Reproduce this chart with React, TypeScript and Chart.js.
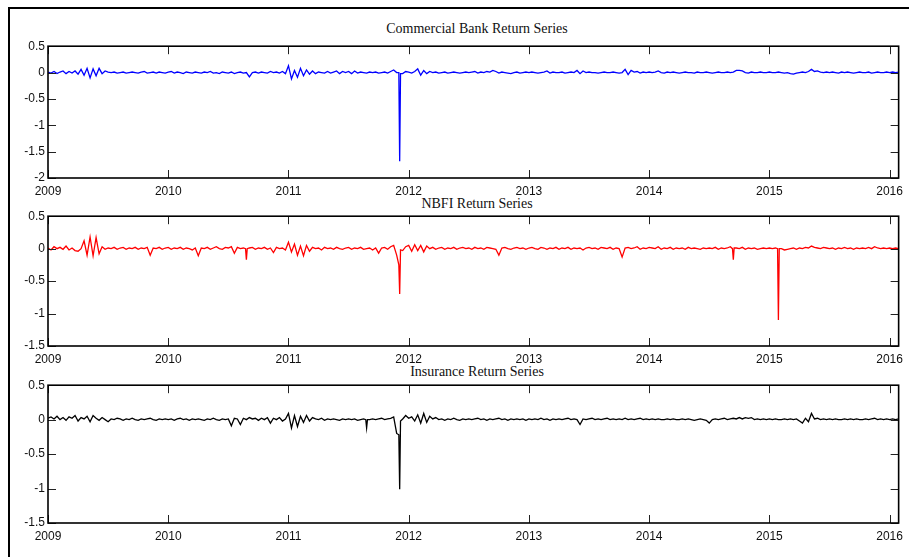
import React, { useEffect, useRef } from "react";
import { Chart, registerables } from "chart.js";

Chart.register(...registerables);

// ---- data (returns; one sample every 1/40 year from 2009.0) ----
const START_YEAR = 2009;
const STEP_YEARS = 1 / 40;
const X_MIN = 2009;
const X_MAX = 2016.075;
const X_TICKS = [2009, 2010, 2011, 2012, 2013, 2014, 2015, 2016];
const Y_TICKS_BANK = [0.5, 0, -0.5, -1, -1.5, -2];
const Y_TICKS_OTHER = [0.5, 0, -0.5, -1, -1.5];
const TITLES = ["Commercial Bank Return Series", "NBFI Return Series", "Insurance Return Series"];

const bankReturns = [
  0.01, -0.01, 0.02, -0.02, 0.01, 0.03, -0.02, 0.02, -0.01, 0.03,
  -0.03, 0.06, -0.05, 0.08, -0.1, 0.07, -0.06, 0.08, -0.02, 0.03,
  0.01, 0.0, 0.01, -0.01, 0.0, 0.01, -0.01, 0.0, 0.01, 0.0,
  -0.01, 0.01, 0.02, -0.01, 0.0, 0.01, -0.01, 0.01, 0.0, -0.01,
  0.01, 0.02, -0.01, 0.01, 0.0, -0.02, 0.01, 0.0, -0.01, 0.01,
  0.0, -0.01, 0.01, 0.0, 0.02, -0.01, 0.0, -0.02, 0.01, 0.0,
  -0.01, 0.01, -0.02, 0.0, 0.01, -0.01, 0.0, -0.08, 0.0, 0.01,
  -0.01, 0.01, 0.0, -0.01, 0.02, 0.0, 0.01, -0.01, 0.02, -0.02,
  0.13, -0.12, 0.04, -0.09, 0.08, -0.06, 0.05, -0.03, 0.03, -0.02,
  0.01, 0.0, -0.01, 0.02, -0.01, 0.01, 0.03, -0.02, 0.02, 0.0,
  0.02, -0.02, 0.03, -0.01, 0.01, 0.0, -0.01, 0.01, 0.0, 0.01,
  -0.01, 0.0, 0.01, -0.01, 0.02, 0.05, 0.0, -1.68, -0.02, 0.02,
  0.01, -0.01, 0.02, 0.07, -0.05, 0.04, -0.02, 0.02, 0.0, 0.01,
  -0.01, 0.0, 0.01, -0.01, 0.0, 0.01, 0.0, -0.01, 0.0, 0.01,
  0.0, 0.01, 0.02, -0.01, 0.01, 0.0, 0.02, 0.01, 0.04, 0.02,
  -0.01, 0.01, 0.0, -0.01, -0.02, 0.0, 0.01, -0.01, 0.0, 0.01,
  0.0, 0.01, 0.0, -0.01, 0.0, 0.01, 0.03, -0.01, 0.01, 0.0,
  0.0, 0.01, -0.01, 0.0, 0.01, 0.0, 0.04, -0.02, 0.03, 0.0,
  0.01, 0.0, 0.0, -0.01, 0.0, 0.01, 0.0, 0.0, 0.01, 0.0,
  -0.01, 0.0, 0.06, -0.04, 0.04, 0.01, 0.02, -0.01, 0.01, 0.0,
  0.01, 0.0, 0.01, 0.03, 0.0, -0.01, 0.01, 0.0, 0.01, 0.0,
  -0.01, 0.0, 0.01, 0.0, 0.0, -0.01, 0.01, 0.0, 0.0, 0.01,
  0.0, -0.01, 0.0, 0.01, 0.0, 0.0, 0.01, 0.0, 0.01, 0.04,
  0.04, 0.03, 0.0, -0.01, 0.01, 0.0, 0.0, 0.01, 0.0, 0.0,
  0.01, 0.0, 0.0, 0.01, 0.0, -0.01, 0.0, -0.02, -0.03, -0.01,
  0.0, 0.01, 0.0, 0.02, 0.06, 0.02, 0.03, 0.01, 0.0, 0.01,
  0.0, 0.01, 0.0, -0.01, 0.01, 0.0, 0.01, 0.0, -0.01, 0.0,
  0.01, 0.0, 0.0, 0.01, -0.01, 0.0, 0.01, 0.0, 0.0, 0.01,
  0.0, 0.01, 0.0, 0.01,
];
// extra daily samples right beside the crash day, [year, return]
const bankDetail = [
  [2011.918, 0.0],
  [2011.932, -0.02],
];

const nbfiReturns = [
  0.01, -0.02, 0.03, 0.0, 0.02, -0.01, 0.04, -0.02, 0.01, -0.03,
  -0.04, 0.0, 0.12, -0.1, 0.18, -0.11, 0.17, -0.08, 0.03, -0.01,
  0.01, 0.0, 0.02, -0.01, 0.01, 0.02, -0.01, 0.01, 0.0, 0.02,
  -0.01, 0.01, 0.0, 0.02, -0.1, 0.01, 0.0, 0.02, -0.01, 0.01,
  0.02, -0.01, 0.01, 0.0, 0.02, -0.01, 0.01, 0.0, -0.02, 0.01,
  -0.11, 0.01, 0.0, 0.02, -0.01, 0.01, 0.03, 0.0, -0.01, 0.02,
  0.01, 0.03, -0.07, 0.02, 0.0, 0.01, -0.17, 0.01, 0.02, -0.01,
  0.01, 0.0, 0.02, -0.01, 0.01, -0.06, 0.02, 0.0, 0.01, -0.02,
  0.1, -0.05, 0.07, -0.1, 0.04, -0.11, 0.05, -0.04, 0.02, 0.0,
  0.01, -0.02, 0.02, 0.0, 0.01, -0.01, 0.02, 0.0, -0.01, 0.01,
  0.02, -0.01, 0.01, 0.0, 0.02, -0.01, 0.0, 0.01, -0.02, 0.01,
  -0.07, 0.01, 0.02, -0.01, 0.03, 0.05, -0.1, -0.7, -0.03, 0.03,
  0.05, -0.04, 0.06, -0.03, 0.05, -0.05, 0.04, 0.0, 0.02, -0.01,
  0.01, 0.02, -0.01, 0.01, 0.0, 0.02, -0.01, 0.01, 0.02, 0.0,
  0.01, -0.01, 0.02, 0.0, 0.01, -0.01, 0.02, 0.01, 0.0, -0.01,
  -0.1, 0.01, 0.02, 0.0, -0.01, 0.01, 0.02, 0.0, 0.01, -0.01,
  0.01, 0.02, 0.0, -0.01, 0.02, 0.01, -0.01, 0.01, 0.0, 0.02,
  -0.01, 0.01, 0.0, 0.02, -0.01, 0.01, 0.0, 0.01, -0.02, 0.01,
  0.02, 0.0, 0.01, -0.01, 0.02, 0.01, 0.0, 0.02, -0.01, 0.01,
  0.0, -0.13, 0.01, 0.02, 0.0, 0.01, 0.03, -0.01, 0.01, 0.0,
  0.02, 0.01, 0.0, 0.03, -0.01, 0.01, 0.0, 0.02, -0.01, 0.01,
  0.0, 0.01, -0.01, 0.02, 0.0, 0.01, 0.0, -0.01, 0.01, 0.0,
  0.01, 0.0, 0.02, -0.01, 0.01, 0.0, 0.01, 0.03, -0.17, 0.01,
  0.0, 0.02, -0.01, 0.01, 0.0, 0.01, -0.01, 0.0, 0.01, 0.0,
  0.01, 0.0, 0.01, -1.1, 0.0, -0.02, -0.01, 0.0, 0.01, -0.01,
  0.01, 0.0, 0.02, 0.01, 0.04, 0.02, 0.01, 0.0, 0.02, 0.01,
  0.0, 0.01, -0.01, 0.01, 0.0, 0.02, 0.0, 0.01, -0.01, 0.01,
  0.0, 0.01, 0.0, 0.02, 0.0, 0.03, 0.01, 0.0, 0.01, 0.0,
  0.01, 0.0, 0.01, 0.0,
];
const nbfiDetail = [
  [2011.918, -0.25],
  [2011.932, -0.02],
  [2010.643, 0.0],
  [2010.657, 0.0],
  [2014.693, 0.0],
  [2014.707, 0.01],
  [2015.068, 0.0],
  [2015.082, 0.0],
];

const insuranceReturns = [
  0.02, 0.04, 0.01, 0.05, 0.0, 0.03, -0.01, 0.04, 0.02, 0.06,
  -0.02, 0.03, 0.01, 0.05, -0.03, 0.06, 0.02, -0.01, 0.03, 0.0,
  -0.03, 0.01, 0.0, 0.02, 0.01, -0.01, 0.01, 0.0, 0.02, 0.0,
  -0.01, 0.01, 0.0, 0.01, 0.02, 0.0, -0.01, 0.01, 0.0, 0.01,
  0.0, 0.01, -0.01, 0.01, 0.02, 0.0, 0.01, -0.01, 0.01, 0.0,
  0.01, 0.0, -0.01, 0.01, 0.0, 0.02, 0.0, -0.01, 0.01, 0.0,
  0.01, -0.09, 0.02, 0.01, -0.07, 0.02, 0.0, 0.03, 0.01, 0.02,
  -0.01, 0.02, 0.0, 0.03, -0.05, 0.02, 0.0, 0.03, -0.02, 0.01,
  0.09, -0.12, 0.06, -0.1, 0.05, -0.04, 0.06, -0.02, 0.03, 0.01,
  0.0, 0.02, -0.01, 0.01, 0.0, 0.01, 0.0, -0.01, 0.01, 0.0,
  0.01, 0.0, 0.01, -0.01, 0.0, 0.01, -0.12, 0.0, 0.01, 0.0,
  0.01, 0.02, 0.0, 0.01, 0.02, 0.04, -0.2, -1.01, 0.01, 0.06,
  0.02, 0.04, -0.02, 0.07, -0.05, 0.09, -0.04, 0.05, 0.01, 0.03,
  0.0, 0.01, -0.01, 0.01, 0.0, 0.02, 0.0, -0.01, 0.01, 0.0,
  0.01, 0.0, 0.01, 0.02, 0.0, 0.01, -0.01, 0.01, 0.0, 0.01,
  0.02, 0.0, 0.01, -0.01, 0.01, 0.0, 0.01, 0.0, 0.01, -0.01,
  0.01, 0.0, 0.01, 0.0, 0.02, 0.0, 0.01, -0.01, 0.01, 0.0,
  0.01, 0.0, 0.01, 0.02, 0.0, 0.01, 0.0, -0.07, 0.01, 0.0,
  0.01, 0.02, 0.0, 0.01, 0.0, 0.01, 0.02, 0.0, 0.01, 0.0,
  0.01, 0.0, 0.02, 0.0, 0.01, 0.0, 0.01, 0.02, 0.0, 0.01,
  0.0, 0.01, 0.0, 0.01, 0.0, 0.0, 0.01, 0.0, 0.01, 0.0,
  0.0, 0.01, 0.0, 0.01, 0.0, -0.01, 0.0, 0.01, 0.0, -0.01,
  -0.05, 0.0, 0.01, 0.0, 0.01, 0.02, 0.0, 0.01, 0.02, 0.01,
  0.03, 0.01, 0.03, 0.02, 0.03, 0.0, 0.01, 0.0, 0.01, 0.0,
  0.01, 0.0, 0.01, 0.0, 0.0, 0.01, 0.0, 0.01, 0.0, 0.01,
  -0.02, -0.05, 0.02, -0.03, 0.09, 0.01, 0.02, 0.0, 0.01, 0.0,
  0.01, 0.0, 0.01, 0.0, 0.0, 0.01, 0.0, 0.01, 0.0, 0.01,
  0.0, 0.0, 0.01, 0.0, 0.01, 0.02, 0.0, 0.01, 0.0, 0.01,
  0.0, 0.01, 0.0, 0.01,
];
const insuranceDetail = [
  [2011.918, -0.22],
  [2011.932, -0.02],
  [2011.643, 0.0],
  [2011.657, 0.0],
];

// ---- layout ----
const PAGE_W = 909;
const PAGE_H = 557;
const PLOT_LEFT = 48;
const PLOT_RIGHT = 906;
const CANVAS_LEFT = 10;
const TOP_PAD = 8;
const X_AXIS_H = 24;
const TICK_LEN = 8;

const TICK_FONT = { family: "'Liberation Sans Narrow', 'Liberation Sans', Arial, sans-serif", size: 12 };

const boxPlugin = {
  id: "matlabBox",
  afterDraw(chart: any) {
    const { ctx, chartArea } = chart;
    const { left, right, top, bottom } = chartArea;
    const xs = chart.scales.x;
    const ys = chart.scales.y;
    ctx.save();
    ctx.strokeStyle = "#222";
    ctx.lineWidth = 1;
    ctx.beginPath();
    xs.ticks.forEach((t: any) => {
      const px = Math.round(xs.getPixelForValue(t.value)) + 0.5;
      ctx.moveTo(px, bottom);
      ctx.lineTo(px, bottom - TICK_LEN);
      ctx.moveTo(px, top);
      ctx.lineTo(px, top + TICK_LEN);
    });
    ys.ticks.forEach((t: any) => {
      const py = Math.round(ys.getPixelForValue(t.value)) + 0.5;
      ctx.moveTo(left, py);
      ctx.lineTo(left + TICK_LEN, py);
      ctx.moveTo(right, py);
      ctx.lineTo(right - TICK_LEN, py);
    });
    ctx.stroke();
    ctx.strokeStyle = "#000";
    ctx.lineWidth = 1.6;
    ctx.strokeRect(left, top, right - left, bottom - top);
    ctx.restore();
  },
};

type PanelProps = {
  values: number[];
  detail: number[][];
  color: string;
  yTicks: number[];
  plotTop: number;
  plotBottom: number;
};

function Panel({ values, detail, color, yTicks, plotTop, plotBottom }: PanelProps) {
  const ref = useRef<HTMLCanvasElement | null>(null);
  const width = PAGE_W - CANVAS_LEFT;
  const height = plotBottom - plotTop + TOP_PAD + X_AXIS_H;
  useEffect(() => {
    if (!ref.current) return;
    const yMin = Math.min(...yTicks);
    const yMax = Math.max(...yTicks);
    const points = values
      .map((v, i) => ({ x: START_YEAR + i * STEP_YEARS, y: v }))
      .concat(detail.map(([x, y]) => ({ x, y })))
      .sort((a, b) => a.x - b.x);
    const chart = new Chart(ref.current, {
      type: "line",
      data: {
        datasets: [
          {
            data: points,
            borderColor: color,
            borderWidth: 1.3,
            pointRadius: 0,
            tension: 0,
            fill: false,
          },
        ],
      },
      options: {
        responsive: false,
        maintainAspectRatio: false,
        animation: false,
        events: [],
        layout: { padding: { top: TOP_PAD, right: PAGE_W - PLOT_RIGHT, left: 0, bottom: 0 } },
        plugins: { legend: { display: false }, tooltip: { enabled: false }, title: { display: false } },
        scales: {
          x: {
            type: "linear",
            min: X_MIN,
            max: X_MAX,
            grid: { display: false, drawTicks: false },
            border: { display: false },
            afterBuildTicks: (s: any) => {
              s.ticks = X_TICKS.map((v) => ({ value: v }));
            },
            afterFit: (s: any) => {
              s.height = X_AXIS_H;
            },
            ticks: {
              autoSkip: false,
              maxRotation: 0,
              minRotation: 0,
              padding: 6,
              color: "#111",
              font: TICK_FONT,
              callback: (v: any) => String(v),
            },
          },
          y: {
            type: "linear",
            min: yMin,
            max: yMax,
            grid: { display: false, drawTicks: false },
            border: { display: false },
            afterBuildTicks: (s: any) => {
              s.ticks = yTicks.map((v) => ({ value: v }));
            },
            afterFit: (s: any) => {
              s.width = PLOT_LEFT - CANVAS_LEFT;
            },
            ticks: {
              autoSkip: false,
              padding: 3,
              color: "#111",
              font: TICK_FONT,
              callback: (v: any) => String(v),
            },
          },
        },
      },
      plugins: [boxPlugin],
    });
    return () => chart.destroy();
  }, [values, detail, color, yTicks, plotTop, plotBottom]);
  return (
    <canvas
      ref={ref}
      width={width}
      height={height}
      style={{ position: "absolute", left: CANVAS_LEFT, top: plotTop - TOP_PAD, width, height }}
    />
  );
}

const titleStyle = (centerY: number): React.CSSProperties => ({
  position: "absolute",
  left: PLOT_LEFT,
  width: PLOT_RIGHT - PLOT_LEFT,
  top: centerY - 9,
  height: 18,
  lineHeight: "18px",
  textAlign: "center",
  fontFamily: "'Liberation Serif', 'Times New Roman', serif",
  fontSize: 14,
  color: "#111",
  whiteSpace: "nowrap",
});

export default function App() {
  return (
    <div
      style={{
        position: "absolute",
        left: 0,
        top: 0,
        width: PAGE_W,
        height: PAGE_H,
        overflow: "hidden",
        background: "#fff",
      }}
    >
      <div
        style={{
          position: "absolute",
          left: 8,
          top: 7,
          width: 960,
          height: 600,
          borderTop: "2px solid #000",
          borderLeft: "2px solid #000",
        }}
      />
      <div style={titleStyle(29)}>{TITLES[0]}</div>
      <div style={titleStyle(204)}>{TITLES[1]}</div>
      <div style={titleStyle(372)}>{TITLES[2]}</div>
      <Panel values={bankReturns} detail={bankDetail} color="#0000ff" yTicks={Y_TICKS_BANK} plotTop={44} plotBottom={178} />
      <Panel values={nbfiReturns} detail={nbfiDetail} color="#ff0000" yTicks={Y_TICKS_OTHER} plotTop={214} plotBottom={346} />
      <Panel values={insuranceReturns} detail={insuranceDetail} color="#000000" yTicks={Y_TICKS_OTHER} plotTop={383} plotBottom={523} />
    </div>
  );
}
